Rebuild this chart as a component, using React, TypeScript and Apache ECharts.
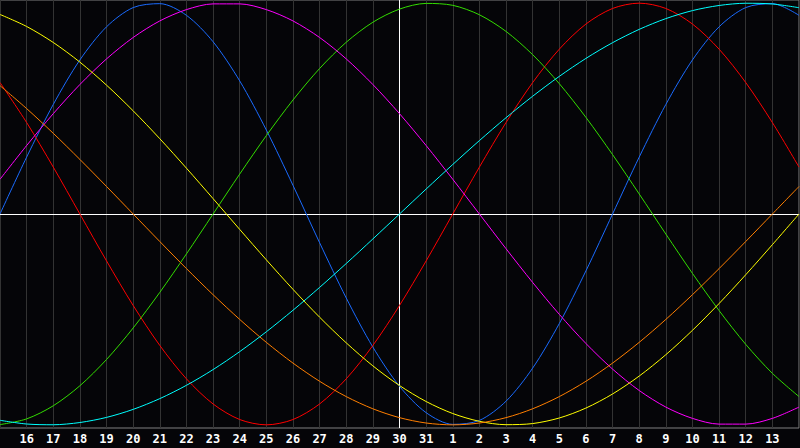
import React, { useEffect, useRef } from "react";
import * as echarts from "echarts";

const days: string[] = [
  "15", "16", "17", "18", "19", "20", "21", "22", "23", "24", "25", "26", "27", "28", "29", "30", "31",
  "1", "2", "3", "4", "5", "6", "7", "8", "9", "10", "11", "12", "13", "14",
];
const todayIndex = 15;

const physical = [0, 26.98, 51.96, 73.08, 88.79, 97.91, 99.77, 94.23, 81.7, 63.13, 39.84, 13.62, -13.62, -39.84, -63.13, -81.7, -94.23, -99.77, -97.91, -88.79, -73.08, -51.96, -26.98, 0, 26.98, 51.96, 73.08, 88.79, 97.91, 99.77, 94.23];
const emotional = [62.35, 43.39, 22.25, 0, -22.25, -43.39, -62.35, -78.18, -90.1, -97.49, -100, -97.49, -90.1, -78.18, -62.35, -43.39, -22.25, 0, 22.25, 43.39, 62.35, 78.18, 90.1, 97.49, 100, 97.49, 90.1, 78.18, 62.35, 43.39, 22.25];
const intellectual = [-99.89, -97.18, -90.96, -81.46, -69.01, -54.06, -37.17, -18.93, 0, 18.93, 37.17, 54.06, 69.01, 81.46, 90.96, 97.18, 99.89, 98.98, 94.5, 86.6, 75.57, 61.82, 45.82, 28.17, 9.51, -9.51, -28.17, -45.82, -61.82, -75.57, -86.6];
const intuitive = [16.46, 32.47, 47.59, 61.42, 73.57, 83.72, 91.58, 96.94, 99.66, 99.66, 96.94, 91.58, 83.72, 73.57, 61.42, 47.59, 32.47, 16.46, 0, -16.46, -32.47, -47.59, -61.42, -73.57, -83.72, -91.58, -96.94, -99.66, -99.66, -96.94, -91.58];
const aesthetic = [94.64, 88.94, 81.35, 72.03, 61.11, 48.94, 35.72, 21.74, 7.3, -7.3, -21.74, -35.72, -48.94, -61.11, -72.03, -81.35, -88.94, -94.64, -98.33, -99.93, -99.4, -96.75, -92.04, -85.36, -76.87, -66.73, -55.17, -42.45, -28.81, -14.56, 0];
const awareness = [60.88, 50, 38.27, 25.88, 13.05, 0, -13.05, -25.88, -38.27, -50, -60.88, -70.71, -79.34, -86.6, -92.39, -96.59, -99.14, -100, -99.14, -96.59, -92.39, -86.6, -79.34, -70.71, -60.88, -50, -38.27, -25.88, -13.05, 0, 13.05];
const spiritual = [-97.85, -99.61, -99.96, -98.9, -96.47, -92.67, -87.57, -81.26, -73.8, -65.28, -55.86, -45.66, -34.82, -23.49, -11.83, 0, 11.83, 23.49, 34.82, 45.66, 55.86, 65.28, 73.8, 81.26, 87.57, 92.67, 96.47, 98.9, 99.96, 99.61, 97.85];

const seriesDefs = [
  { name: "Physical", data: physical, color: "#1a6bff" },
  { name: "Emotional", data: emotional, color: "#ff0000" },
  { name: "Intellectual", data: intellectual, color: "#33dd00" },
  { name: "Intuitive", data: intuitive, color: "#ff00ff" },
  { name: "Aesthetic", data: aesthetic, color: "#ffff00" },
  { name: "Awareness", data: awareness, color: "#ff7f00" },
  { name: "Spiritual", data: spiritual, color: "#00ffff" },
];

export default function App() {
  const ref = useRef<HTMLDivElement>(null);
  useEffect(() => {
    document.body.style.margin = "0";
    document.body.style.background = "#050508";
    const chart = echarts.init(ref.current!, null, { renderer: "svg" });
    const series: any[] = seriesDefs.map((s, i) => ({
      name: s.name,
      type: "line",
      data: s.data,
      smooth: 0.3,
      symbol: "none",
      lineStyle: { color: s.color, width: 1 },
      itemStyle: { color: s.color },
      z: 3,
      ...(i === 0
        ? {
            markLine: {
              silent: true,
              symbol: "none",
              label: { show: false },
              lineStyle: { color: "#ffffff", width: 1, type: "solid" },
              data: [{ xAxis: todayIndex }, { yAxis: 0 }],
              z: 1,
            },
          }
        : {}),
    }));
    chart.setOption({
      animation: false,
      backgroundColor: "#050508",
      grid: {
        left: 0,
        right: 1,
        top: 0,
        bottom: 20,
        show: true,
        backgroundColor: "#050508",
        borderColor: "#808080",
        borderWidth: 1,
      },
      xAxis: {
        type: "category",
        data: days,
        boundaryGap: false,
        axisLine: { show: true, lineStyle: { color: "#808080", width: 1 } },
        axisTick: { show: false },
        splitLine: { show: true, interval: 0, lineStyle: { color: "#333333", width: 1 } },
        axisLabel: {
          interval: (idx: number) => idx > 0 && idx < days.length - 1,
          color: "#ffffff",
          fontFamily: "DejaVu Sans Mono",
          fontWeight: "bold",
          fontSize: 12,
          margin: 5,
        },
      },
      yAxis: {
        type: "value",
        min: -101.5,
        max: 101.5,
        show: false,
        splitLine: { show: false },
      },
      series,
    });
    return () => chart.dispose();
  }, []);
  return <div ref={ref} style={{ width: 800, height: 448, background: "#050508" }} />;
}
